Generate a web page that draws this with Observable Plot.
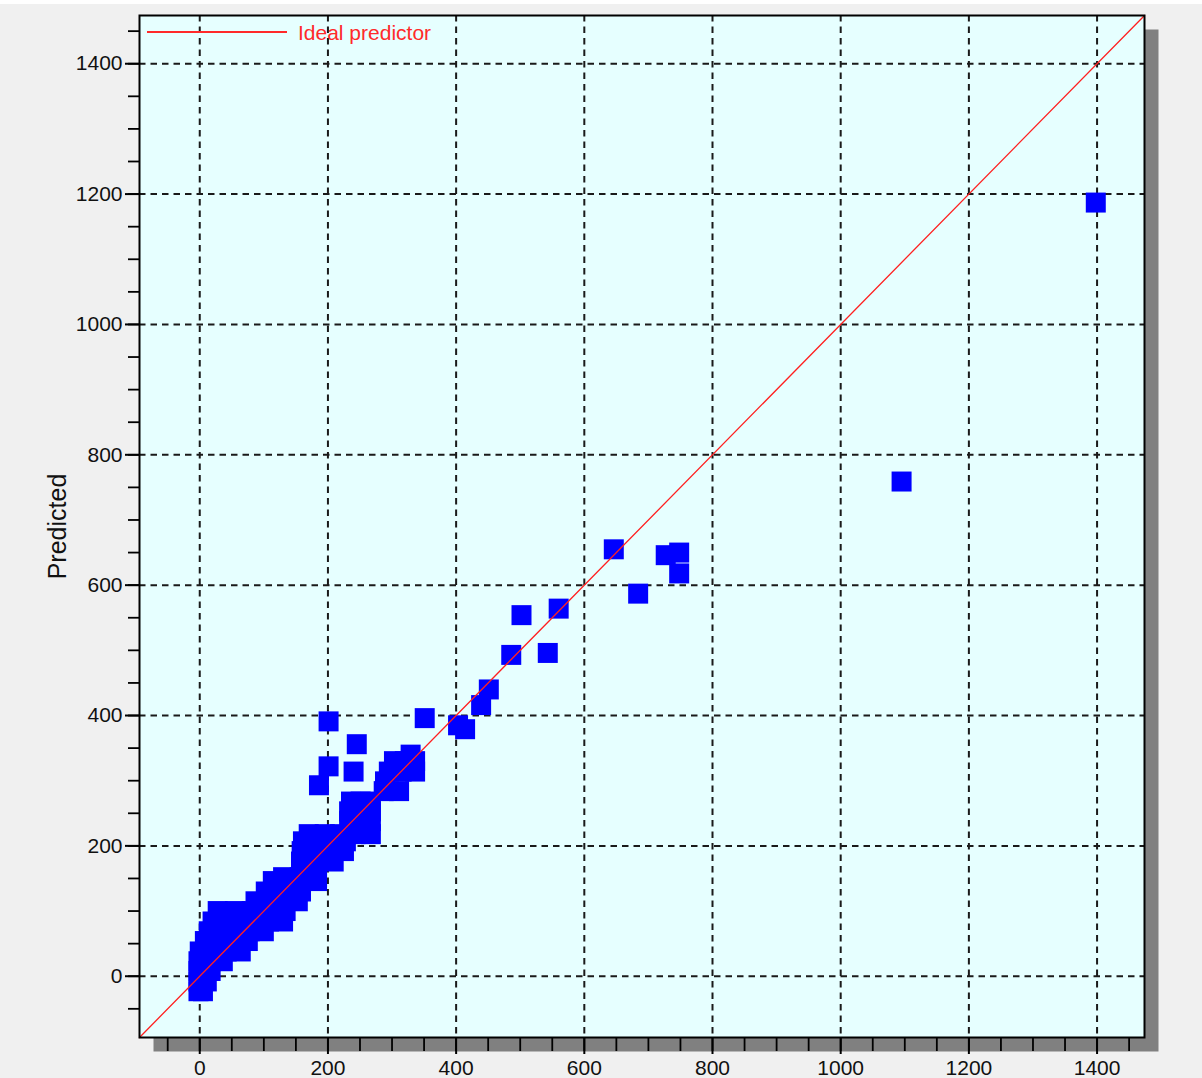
<!DOCTYPE html>
<html>
<head>
<meta charset="utf-8">
<script src="https://cdn.jsdelivr.net/npm/d3@7"></script>
<script src="https://cdn.jsdelivr.net/npm/@observablehq/plot@0.6"></script>
<style>
  html, body { margin: 0; padding: 0; background: #f0f0f0; }
  svg { display: block; }
</style>
</head>
<body>
<script>
// ---- axis setup ----
const axisDomain = [-94, 1474];
const tickLabels = [0, 200, 400, 600, 800, 1000, 1200, 1400];
const minorTicks = d3.range(-50, 1451, 50);

// ---- isolated points: [actual, predicted] ----
const outlierPoints = [
  [1398, 1187], [1095, 759], [646, 655], [684, 587], [727, 646],
  [748, 650], [748, 618], [502, 554], [560, 564], [486, 493],
  [543, 496], [451, 440], [439, 416], [351, 396], [403, 385],
  [414, 379], [201, 391], [245, 356], [201, 322], [240, 314], [186, 293]
];

// ---- dense cluster, by predicted level: actual values at that level ----
const clusterPredicted = [-23, -8, 8, 23, 38, 54, 69, 84, 100, 115, 130, 146, 152,
  176, 192, 207, 218, 238, 253, 268, 284, 299, 314, 330, 340];
const clusterActual = [
  [-2, 5],
  [-2, 11],
  [-2, 17],
  [-2, 17, 36],
  [0, 22, 42, 64],
  [8, 30, 53, 75],
  [14, 36, 58, 78, 100],
  [20, 42, 64, 86, 108, 130],
  [28, 55, 81, 108, 134],
  [87, 109, 131, 153],
  [103, 131, 158],
  [114, 137, 159, 183],
  [130, 156, 183],
  [158, 183, 209],
  [159, 181, 203, 225],
  [161, 183, 206, 228],
  [170, 195, 219, 243, 267],
  [233, 250, 267],
  [233, 250, 267],
  [236, 251, 267],
  [287, 311],
  [289],
  [295, 315, 336],
  [303, 320, 336],
  [329]
];

const points = [];
clusterPredicted.forEach((p, i) => clusterActual[i].forEach(a => points.push({actual: a, predicted: p})));
outlierPoints.forEach(([a, p]) => points.push({actual: a, predicted: p}));

const font = "'Liberation Sans', Arial, sans-serif";
const gridStyle = {stroke: "#1a1a1a", strokeOpacity: 1, strokeWidth: 2, strokeDasharray: "6.5,5"};

const chart = Plot.plot({
  width: 1202,
  height: 1078,
  marginLeft: 139,
  marginRight: 58,
  marginTop: 15,
  marginBottom: 41,
  x: {domain: axisDomain, label: null},
  y: {domain: axisDomain, label: null},
  style: {background: "#f0f0f0", fontFamily: font, overflow: "visible"},
  marks: [
    Plot.frame({fill: "#808080", stroke: "none", dx: 14, dy: 14}),
    Plot.frame({fill: "#e6ffff", stroke: "none"}),
    Plot.gridX(tickLabels, gridStyle),
    Plot.gridY(tickLabels, gridStyle),
    Plot.dot(points, {x: "actual", y: "predicted", symbol: "square", r: 11.28, fill: "#0000ff", stroke: "none"}),
    Plot.line(axisDomain, {x: d => d, y: d => d, stroke: "#ff2020", strokeWidth: 1.3}),
    Plot.frame({stroke: "#000", strokeWidth: 2}),
    Plot.axisX(minorTicks, {tickSize: 14, strokeWidth: 1.8, tickFormat: () => "", label: null}),
    Plot.axisX(tickLabels, {tickSize: 17, strokeWidth: 2, tickPadding: 6, fontSize: 21, fill: "#111", tickFormat: d => String(d), label: null}),
    Plot.axisY(minorTicks, {tickSize: 11, strokeWidth: 1.8, tickFormat: () => "", label: null}),
    Plot.axisY(tickLabels, {tickSize: 14, strokeWidth: 2, tickPadding: 3, fontSize: 21, fill: "#111", tickFormat: d => String(d), label: null}),
    Plot.text(["Predicted"], {frameAnchor: "left", textAnchor: "middle", dx: -82, rotate: -90, fontSize: 25, fill: "#111", fontFamily: font})
  ]
});

document.body.append(chart);

// legend and top strip
const svg = d3.select(chart);
svg.insert("rect", ":first-child").attr("x", 0).attr("y", 0).attr("width", 1202).attr("height", 4).attr("fill", "#ffffff");
svg.append("line").attr("x1", 147).attr("x2", 287).attr("y1", 32).attr("y2", 32)
  .attr("stroke", "#ff2a2a").attr("stroke-width", 2);
svg.append("text").attr("x", 298).attr("y", 40).attr("fill", "#ff2a2a")
  .attr("text-anchor", "start")
  .attr("font-size", 21).attr("font-family", font).text("Ideal predictor");
</script>
</body>
</html>
